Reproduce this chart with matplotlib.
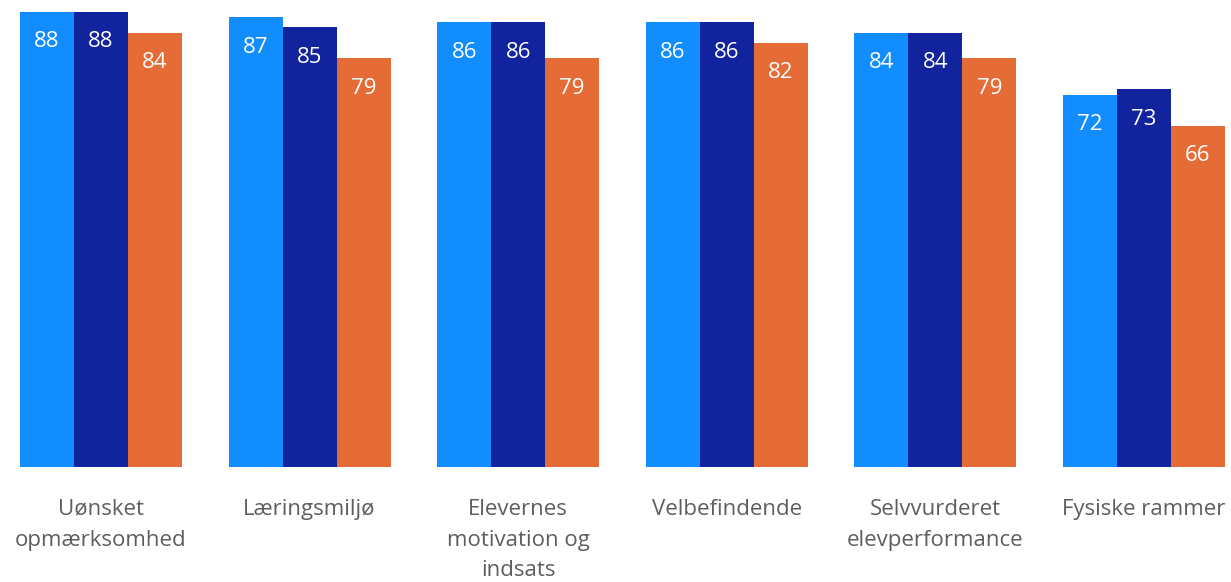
import numpy as np
import matplotlib
matplotlib.use('Agg')
import matplotlib.pyplot as plt

categories = ['Uønsket\nopmærksomhed', 'Læringsmiljø', 'Elevernes\nmotivation og\nindsats',
              'Velbefindende', 'Selvvurderet\nelevperformance', 'Fysiske rammer']
serie1 = [88, 87, 86, 86, 84, 72]
serie2 = [88, 85, 86, 86, 84, 73]
serie3 = [84, 79, 79, 82, 79, 66]
colors = ['#118DFF', '#12239E', '#E66C37']

plt.rcParams['font.family'] = ['Open Sans', 'DejaVu Sans']

fig = plt.figure(figsize=(12.31, 5.82), dpi=100)
ax = fig.add_axes([0, 1 - 467 / 582, 1, 467 / 582])

x = np.arange(len(categories))
w = 54 / 208.6
for k, vals in enumerate([serie1, serie2, serie3]):
    pos = x + (k - 1) * w
    ax.bar(pos, vals, width=w, color=colors[k])
    for p, v in zip(pos, vals):
        ax.annotate(str(v), (p, v), xytext=(0, -30), textcoords='offset pixels',
                    ha='center', va='center', color='white', fontsize=16)

ax.set_xlim(-101 / 208.6, (1231 - 101) / 208.6)
ax.set_ylim(0, 90.3)
ax.set_yticks([])
ax.set_xticks(x)
ax.set_xticklabels(categories, fontsize=16, color='#605E5C', linespacing=1.6)
ax.tick_params(axis='x', length=0, pad=23)
for s in ax.spines.values():
    s.set_visible(False)

fig.savefig('out.png', dpi=100)
